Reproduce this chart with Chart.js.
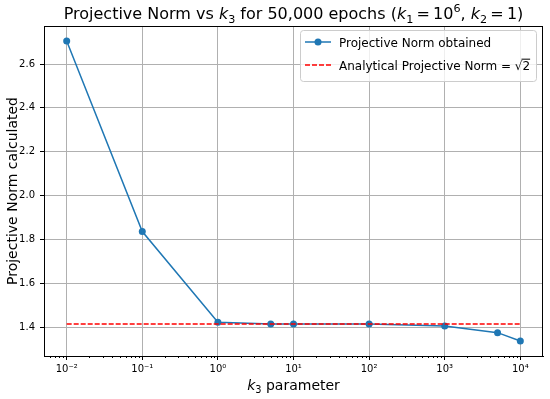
<!DOCTYPE html>
<html>
<head>
<meta charset="utf-8">
<script src="https://cdn.jsdelivr.net/npm/chart.js@4.4.1/dist/chart.umd.min.js"></script>
<style>
  html, body { margin: 0; padding: 0; background: #fff; }
  #wrap { width: 550px; height: 399px; position: relative; }
</style>
</head>
<body>
<div id="wrap"><canvas id="normChart"></canvas></div>
<script>
// data
const kValues = [0.01, 0.1, 1, 5, 10, 100, 1000, 5000, 10000];
const normValues = [2.705, 1.836, 1.423, 1.414, 1.414, 1.414, 1.405, 1.375, 1.337];
const refK = [0.01, 10000];
const refNorm = [1.41421, 1.41421];

const xMajorTicks = [0.01, 0.1, 1, 10, 100, 1000, 10000];
const xTickLabels = ['10⁻²', '10⁻¹', '10⁰', '10¹', '10²', '10³', '10⁴'];
const yTicks = [1.4, 1.6, 1.8, 2.0, 2.2, 2.4, 2.6];
const yTickLabels = ['1.4', '1.6', '1.8', '2.0', '2.2', '2.4', '2.6'];

const FONT = '"DejaVu Sans", sans-serif';
const BLUE = '#1f77b4';
const RED = '#ff0000';
const THIN = '\u2009';

// draws text pieces with italic / sub / sup, like matplotlib mathtext
function drawRich(ctx, segs, x, y, size, align) {
    let total = 0;
    const parts = segs.map(s => {
        const sz = (s.sub || s.sup) ? size * 0.7 : size;
        const font = (s.it ? 'italic ' : '') + sz + 'px ' + FONT;
        ctx.font = font;
        const w = ctx.measureText(s.t).width;
        total += w;
        return Object.assign({}, s, { font: font, w: w });
    });
    let cx = align === 'center' ? x - total / 2 : x;
    ctx.textAlign = 'left';
    ctx.textBaseline = 'alphabetic';
    parts.forEach(p => {
        ctx.font = p.font;
        let dy = 0;
        if (p.sub) dy = size * 0.22;
        if (p.sup) dy = -size * 0.42;
        ctx.fillText(p.t, cx, y + dy);
        if (p.over) {
            ctx.beginPath();
            ctx.lineWidth = 1;
            ctx.moveTo(cx - 1, y - size * 0.86);
            ctx.lineTo(cx + p.w, y - size * 0.86);
            ctx.stroke();
        }
        cx += p.w;
    });
}

function isMajor(v) {
    return xMajorTicks.some(m => Math.abs(v - m) / m < 1e-6);
}

const decorPlugin = {
    id: 'decor',
    afterDraw(chart) {
        const ctx = chart.ctx;
        const a = chart.chartArea;
        ctx.save();
        ctx.fillStyle = '#000';
        ctx.strokeStyle = '#000';

        // top / right spines
        ctx.lineWidth = 1;
        ctx.strokeRect(a.left + 0.5, a.top + 0.5, a.right - a.left - 1, a.bottom - a.top);

        // short minor ticks on the log axis
        const xs = chart.scales.x;
        ctx.beginPath();
        xs.ticks.forEach(t => {
            if (isMajor(t.value)) return;
            const px = Math.round(xs.getPixelForValue(t.value)) + 0.5;
            ctx.moveTo(px, a.bottom);
            ctx.lineTo(px, a.bottom + 2);
        });
        ctx.stroke();

        // title
        drawRich(ctx, [
            { t: 'Projective Norm vs ' }, { t: 'k', it: true }, { t: '3', sub: true },
            { t: ' for 50,000 epochs (' }, { t: 'k', it: true }, { t: '1', sub: true },
            { t: THIN + '=' + THIN + '10' }, { t: '6', sup: true }, { t: ', ' },
            { t: 'k', it: true }, { t: '2', sub: true }, { t: THIN + '=' + THIN + '1)' }
        ], (a.left + a.right) / 2, 19, 16, 'center');

        // x label
        drawRich(ctx, [{ t: 'k', it: true }, { t: '3', sub: true }, { t: ' parameter' }],
            (a.left + a.right) / 2, 390, 14, 'center');

        // y label
        ctx.save();
        ctx.translate(17, (a.top + a.bottom) / 2);
        ctx.rotate(-Math.PI / 2);
        ctx.font = '14px ' + FONT;
        ctx.textAlign = 'center';
        ctx.textBaseline = 'alphabetic';
        ctx.fillText('Projective Norm calculated', 0, 0);
        ctx.restore();

        // legend box
        const bx = 300, by = 30, bw = 236, bh = 51;
        ctx.beginPath();
        ctx.roundRect(bx + 0.5, by + 0.5, bw, bh, 3);
        ctx.fillStyle = 'rgba(255,255,255,0.8)';
        ctx.fill();
        ctx.strokeStyle = '#cccccc';
        ctx.stroke();

        // blue handle
        const r1 = by + 12, r2 = by + 35;
        ctx.strokeStyle = BLUE;
        ctx.lineWidth = 1.5;
        ctx.beginPath();
        ctx.moveTo(305, r1);
        ctx.lineTo(331, r1);
        ctx.stroke();
        ctx.fillStyle = BLUE;
        ctx.beginPath();
        ctx.arc(318, r1, 3.5, 0, Math.PI * 2);
        ctx.fill();

        // red handle
        ctx.strokeStyle = RED;
        ctx.setLineDash([5, 2]);
        ctx.beginPath();
        ctx.moveTo(305, r2);
        ctx.lineTo(331, r2);
        ctx.stroke();
        ctx.setLineDash([]);

        ctx.fillStyle = '#000';
        ctx.strokeStyle = '#000';
        drawRich(ctx, [{ t: 'Projective Norm obtained' }], 339, r1 + 4.5, 12, 'left');
        drawRich(ctx, [{ t: 'Analytical Projective Norm = √' }, { t: '2', over: true }], 339, r2 + 4.5, 12, 'left');

        ctx.restore();
    }
};

const ctx = document.getElementById('normChart');

new Chart(ctx, {
    type: 'line',
    data: {
        datasets: [
            {
                label: 'Analytical Projective Norm = √2',
                data: refK.map((k, i) => ({ x: k, y: refNorm[i] })),
                borderColor: RED,
                borderWidth: 1.5,
                borderDash: [5, 2],
                pointRadius: 0,
                fill: false
            },
            {
                label: 'Projective Norm obtained',
                data: kValues.map((k, i) => ({ x: k, y: normValues[i] })),
                borderColor: BLUE,
                backgroundColor: BLUE,
                borderWidth: 1.5,
                pointRadius: 3.5,
                pointBackgroundColor: BLUE,
                pointBorderColor: BLUE,
                pointBorderWidth: 0,
                tension: 0,
                fill: false
            }
        ]
    },
    options: {
        responsive: true,
        maintainAspectRatio: false,
        animation: false,
        layout: { padding: { top: 26, right: 7, left: 0, bottom: 0 } },
        plugins: {
            legend: { display: false },
            title: { display: false },
            tooltip: { enabled: false }
        },
        scales: {
            x: {
                type: 'logarithmic',
                min: Math.pow(10, -2.3),
                max: Math.pow(10, 4.3),
                afterBuildTicks: function (scale) {
                    const ticks = [];
                    xMajorTicks.forEach(m => {
                        for (let j = 1; j <= 9; j++) ticks.push({ value: m * j });
                    });
                    ticks.unshift({ value: 0.006 }, { value: 0.007 }, { value: 0.008 }, { value: 0.009 });
                    scale.ticks = ticks.filter(t => t.value >= scale.min && t.value <= scale.max);
                },
                afterFit: function (scale) { scale.height = 43; },
                ticks: {
                    autoSkip: false,
                    maxRotation: 0,
                    minRotation: 0,
                    padding: 3,
                    color: '#000',
                    font: { family: FONT, size: 10 },
                    callback: function (value) {
                        const idx = xMajorTicks.findIndex(m => Math.abs(value - m) / m < 1e-6);
                        return idx >= 0 ? xTickLabels[idx] : '';
                    }
                },
                grid: {
                    color: c => (c.tick && isMajor(c.tick.value)) ? '#b0b0b0' : 'rgba(0,0,0,0)',
                    tickColor: c => (c.tick && isMajor(c.tick.value)) ? '#000' : 'rgba(0,0,0,0)',
                    tickLength: 4,
                    lineWidth: 1
                },
                border: { color: '#000', width: 1 }
            },
            y: {
                type: 'linear',
                min: 1.2686,
                max: 2.7734,
                afterBuildTicks: function (scale) {
                    scale.ticks = yTicks.map(v => ({ value: v }));
                },
                afterFit: function (scale) { scale.width = 44; },
                ticks: {
                    padding: 5,
                    color: '#000',
                    font: { family: FONT, size: 10 },
                    callback: function (value) {
                        const idx = yTicks.findIndex(v => Math.abs(v - value) < 1e-6);
                        return idx >= 0 ? yTickLabels[idx] : '';
                    }
                },
                grid: {
                    color: '#b0b0b0',
                    tickColor: '#000',
                    tickLength: 4,
                    lineWidth: 1
                },
                border: { color: '#000', width: 1 }
            }
        }
    },
    plugins: [decorPlugin]
});
</script>
</body>
</html>
